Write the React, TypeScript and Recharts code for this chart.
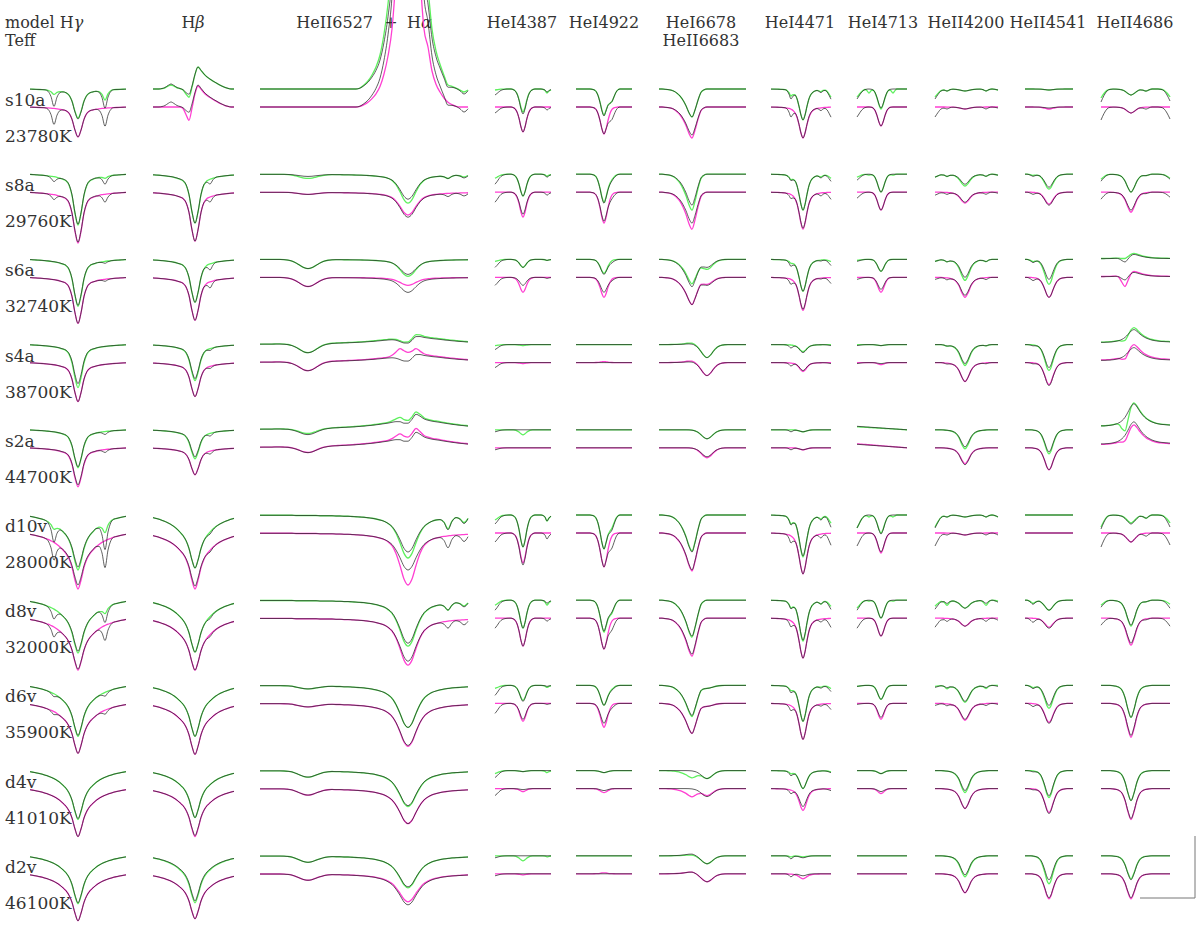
import React from "react";
import { LineChart, Line, XAxis, YAxis } from "recharts";

// page + vertical scale (normalised flux, 1 unit = 100 px)
const W = 1200;
const H = 929;
const PX_PER_UNIT = 100;
const ROW_STEP = 0.852;
const UPPER_SHIFT = 0.18;
const Y_MAX = 2.07;
const Y_MIN = Y_MAX - H / PX_PER_UNIT;

const GREEN = "#5ef05e";
const MAGENTA = "#ff3fd2";
const OBS = "#222222";

const models = ["s10a", "s8a", "s6a", "s4a", "s2a", "d10v", "d8v", "d6v", "d4v", "d2v"];
const teffs = ["23780K", "29760K", "32740K", "38700K", "44700K", "28000K", "32000K", "35900K", "41010K", "46100K"];

// ---------- H gamma ----------
const hgCore = [0,0,0,0,0,0,0,0,0,0,0,0,0.01,0.08,0.32,0.75,1,0.75,0.32,0.08,0.01,0,0,0,0,0,0,0,0,0,0,0,0];
const hgWing = [0.01,0.02,0.03,0.04,0.05,0.065,0.08,0.1,0.12,0.15,0.19,0.24,0.3,0.4,0.55,0.8,1,0.8,0.55,0.4,0.3,0.24,0.19,0.15,0.12,0.1,0.08,0.065,0.05,0.04,0.03,0.02,0.01];
const hgFar = [0.06,0.08,0.1,0.13,0.16,0.2,0.24,0.29,0.35,0.42,0.5,0.6,0.7,0.8,0.9,0.97,1,0.97,0.9,0.8,0.7,0.6,0.5,0.42,0.35,0.29,0.24,0.2,0.16,0.13,0.1,0.08,0.06];
const hgBlendA = [0,0,0,0,0,0,0.08,0.4,1,0.4,0.08,0,0,0,0,0,0,0,0,0,0,0,0,0,0,0,0,0,0,0,0,0,0];
const hgBlendB = [0,0,0,0,0,0,0,0,0,0,0,0,0,0,0,0,0,0,0,0,0,0,0,0.08,0.4,1,0.4,0.08,0,0,0,0,0];
const hgUpper = [
  [0.17,0.12,0,0.04,0.1],[0.3,0.21,0,0,0.02],[0.27,0.2,0,0,0],[0.24,0.19,0,0,0],[0.2,0.18,0,0,0],
  [0.12,0.25,0.18,0.05,0.1],[0.11,0.25,0.17,0,0.06],[0.1,0.26,0.15,0,0],[0.09,0.26,0.14,0,0],[0.09,0.26,0.13,0,0],
];
const hgLower = [
  [0.18,0.12,0,0,0],[0.3,0.21,0,0,0],[0.27,0.19,0,0,0],[0.21,0.18,0,0,0],[0.21,0.18,0,0,0],
  [0.12,0.26,0.18,0,0],[0.11,0.24,0.17,0,0],[0.1,0.25,0.15,0,0],[0.08,0.26,0.14,0,0],[0.08,0.26,0.13,0,0],
];
const hgObs = [
  [0.18,0.12,0,0.16,0.18],[0.3,0.2,0,0.05,0.08],[0.27,0.19,0,0,0.02],[0.21,0.18,0,0,0],[0.2,0.17,0,0,0.03],
  [0.1,0.24,0.18,0.18,0.27],[0.1,0.24,0.17,0.1,0.15],[0.1,0.25,0.15,0.03,0.04],[0.08,0.26,0.14,0,0],[0.08,0.26,0.13,0,0],
];

// ---------- H beta ----------
const hbCore = [0,0,0,0,0,0,0,0,0,0,0.01,0.08,0.32,0.75,1,0.75,0.32,0.08,0.01,0,0,0,0,0,0,0,0,0];
const hbWing = [0.03,0.04,0.05,0.065,0.08,0.1,0.12,0.15,0.19,0.24,0.3,0.4,0.55,0.8,1,0.8,0.55,0.4,0.3,0.24,0.19,0.15,0.12,0.1,0.08,0.065,0.05,0.04];
const hbFar = [0.1,0.13,0.16,0.2,0.24,0.29,0.35,0.42,0.5,0.6,0.7,0.8,0.9,0.97,1,0.97,0.9,0.8,0.7,0.6,0.5,0.42,0.35,0.29,0.24,0.2,0.16,0.13];
const hbBlend = [0,0,0,0,0,0,0,0,0,0,0,0,0,0,0,0,0,0,0.35,1,0.35,0,0,0,0,0,0,0];
const hbEmis = [0,0,0,0,0,0,0,0,0,0,0,0,0.08,0.3,0.7,1,0.85,0.68,0.55,0.45,0.36,0.28,0.2,0.13,0.07,0.03,0,0];
const hbAbs = [0,0,0,0,0,0,0,0,0,0,0.1,0.5,1,0.5,0.1,0,0,0,0,0,0,0,0,0,0,0,0,0];
const hbBump = [0,0,0,0.1,0.3,0.7,1,0.7,0.3,0.1,0,0,0,0,0,0,0,0,0,0,0,0,0,0,0,0,0,0];
const hbUpper = [
  [0,0,0,0,-0.22,0.1,-0.04],[0.28,0.21,0,0,0,0,0],[0.24,0.19,0,0,0,0,0],[0.19,0.17,0,0,0,0,0],[0.14,0.15,0,0,0,0,0],
  [0.1,0.24,0.19,0,0,0,0],[0.1,0.24,0.18,0,0,0,0],[0.1,0.25,0.16,0,0,0,0],[0.09,0.24,0.14,0,0,0,0],[0.09,0.24,0.14,0,0,0,0],
];
const hbLower = [
  [0,0,0,0,-0.21,0.15,0],[0.29,0.2,0,0,0,0,0],[0.24,0.19,0,0,0,0,0],[0.18,0.16,0,0,0,0,0],[0.13,0.14,0,0,0,0,0],
  [0.12,0.25,0.19,0,0,0,0],[0.1,0.24,0.18,0,0,0,0],[0.1,0.25,0.16,0,0,0,0],[0.1,0.24,0.14,0,0,0,0],[0.09,0.23,0.13,0,0,0,0],
];
const hbObs = [
  [0,0,0,0,-0.22,0.07,-0.05],[0.29,0.2,0,0.05,0,0,0],[0.24,0.19,0,0.06,0,0,0],[0.18,0.16,0,0.02,0,0,0],[0.13,0.14,0,0.03,0,0,0],
  [0.1,0.24,0.19,0.02,0,0,0],[0.1,0.24,0.18,0.02,0,0,0],[0.1,0.25,0.16,0,0,0,0],[0.09,0.24,0.14,0,0,0,0],[0.09,0.23,0.13,0,0,0,0],
];

// ---------- HeII6527 + H alpha ----------
const haCore = [0,0,0,0,0,0,0,0,0,0,0,0,0,0,0,0,0,0,0,0,0,0,0,0,0,0,0,0,0,0,0,0,0.01,0.06,0.21,0.5,0.84,1,0.84,0.5,0.21,0.06,0.01,0,0,0,0,0,0,0,0,0,0];
const haWing = [0.01,0.01,0.01,0.01,0.01,0.01,0.01,0.01,0.01,0.02,0.02,0.02,0.02,0.02,0.02,0.03,0.03,0.03,0.03,0.04,0.04,0.05,0.05,0.06,0.07,0.08,0.09,0.11,0.13,0.16,0.2,0.25,0.33,0.43,0.58,0.75,0.93,1,0.93,0.75,0.58,0.43,0.33,0.25,0.2,0.16,0.13,0.11,0.09,0.08,0.07,0.06,0.05];
const haHeII = [0,0,0,0,0,0,0.02,0.07,0.18,0.38,0.65,0.9,1,0.9,0.65,0.38,0.18,0.07,0.02,0,0,0,0,0,0,0,0,0,0,0,0,0,0,0,0,0,0,0,0,0,0,0,0,0,0,0,0,0,0,0,0,0,0];
const haBlend1 = [0,0,0,0,0,0,0,0,0,0,0,0,0,0,0,0,0,0,0,0,0,0,0,0,0,0,0,0,0,0,0,0,0,0,0,0,0,0,0,0,0,0,0,0,0,0.05,0.35,1,0.35,0.05,0,0,0];
const haBlend2 = [0,0,0,0,0,0,0,0,0,0,0,0,0,0,0,0,0,0,0,0,0,0,0,0,0,0,0,0,0,0,0,0,0,0,0,0,0,0,0,0,0,0,0,0,0,0,0,0,0,0,0.35,1,0.35];
const haEmBroad = [0.06,0.07,0.07,0.07,0.08,0.08,0.08,0.09,0.09,0.1,0.11,0.11,0.12,0.13,0.14,0.15,0.16,0.17,0.19,0.2,0.22,0.24,0.26,0.28,0.31,0.34,0.37,0.41,0.45,0.5,0.55,0.61,0.67,0.74,0.8,0.86,0.92,0.96,0.99,1,0.99,0.96,0.92,0.86,0.8,0.74,0.67,0.61,0.55,0.5,0.45,0.41,0.37];
const haEmNarrow = [0,0,0,0,0,0,0,0,0,0,0,0,0,0,0,0,0,0,0,0,0,0,0,0,0,0,0,0,0,0,0,0,0,0,0,0,0.05,0.2,0.6,1,0.6,0.2,0.05,0,0,0,0,0,0,0,0,0,0];
const haEmBump = [0,0,0,0,0,0,0,0,0,0,0,0,0,0,0,0,0,0,0,0,0,0,0,0,0,0,0,0,0,0,0,0,0,0.2,0.6,1,0.6,0.2,0,0,0,0,0,0,0,0,0,0,0,0,0,0,0];
const haEmStrong = [0,0,0,0,0,0,0,0,0,0,0,0,0,0,0,0,0,0,0,0,0,0,0,0,0,0.01,0.04,0.08,0.14,0.22,0.34,0.55,0.85,1.3,2.2,3.5,6,8,6,3.5,2.2,1.3,1,0.6,0.38,0.25,0.15,0.08,0.04,0.01,0,0,0];
const haUpper = [
  [0,0,0,0.04,0.03,0,0,0,-1],[0.17,0.12,0.04,0.03,0.02,0,0,0,0],[0.1,0.07,0.09,0,0,0,0,0,0],[0.06,0,0.09,0,0,-0.08,-0.05,0,0],[0.04,0,0.05,0,0,-0.11,-0.09,-0.05,0],
  [0.18,0.25,0,0.11,0.06,0,0,0,0],[0.18,0.28,0,0.07,0.04,0,0,0,0],[0.14,0.28,0.03,0,0,0,0,0,0],[0.1,0.26,0.06,0,0,0,0,0,0],[0.08,0.24,0.06,0,0,0,0,0,0],
];
const haLower = [
  [0,0,0,0,0,0,0,0,-0.6],[0.12,0.11,0.02,0,0,0,0,0,0],[0.04,0.04,0.09,0,0,0,0,0,0],[0,0,0.09,0,0,-0.08,-0.06,-0.07,0],[0.03,0,0.06,0,0,-0.11,-0.1,-0.06,0],
  [0.26,0.26,0,0,0,0,0,0,0],[0.2,0.27,0,0,0,0,0,0,0],[0.15,0.28,0.03,0,0,0,0,0,0],[0.1,0.25,0.06,0,0,0,0,0,0],[0.06,0.22,0.06,0,0,0,0,0,0],
];
const haObs = [
  [0,0,0,0.05,0.05,0,0,0,-0.85],[0.13,0.12,0.02,0.03,0.03,0,0,0,0],[0.08,0.07,0.09,0,0,0,0,0,0],[0.06,0,0.09,0,0,-0.07,-0.04,0,0],[0.05,0,0.06,0,0,-0.1,-0.08,-0.02,0],
  [0.12,0.25,0,0.12,0.07,0,0,0,0],[0.16,0.27,0,0.07,0.05,0,0,0,0],[0.14,0.28,0.03,0,0,0,0,0,0],[0.1,0.25,0.06,0,0,0,0,0,0],[0.07,0.24,0.06,0,0,0,0,0,0],
];

// ---------- HeI4387 ----------
const he4387Core = [0,0,0,0,0,0,0,0,0,0.02,0.07,0.2,0.45,0.8,1,0.8,0.45,0.2,0.07,0.02,0,0,0,0,0,0,0,0,0];
const he4387Edge = [1,0.75,0.45,0.22,0.1,0.04,0.01,0,0,0,0,0,0,0,0,0,0,0,0,0,0,0,0,0,0,0,0,0,0];
const he4387Blend = [0,0,0,0,0,0,0,0,0,0,0,0,0,0,0,0,0,0,0,0,0,0,0,0,0.08,0.35,1,0.5,0.2];
const he4387Upper = [[0.23,0.01,0.04],[0.22,0.04,0.02],[0.08,0.02,0.01],[0.01,0.01,0],[0.05,0,0],[0.32,0.05,0.06],[0.28,0.05,0.05],[0.15,0.03,0.02],[0.01,0.03,0.02],[0.05,0,0.01]];
const he4387Lower = [[0.25,0,0],[0.25,0,0],[0.15,0,0],[0.01,0,0],[0,0,0],[0.3,0,0],[0.28,0,0],[0.18,0,0],[0.03,0,0],[0.01,0,0]];
const he4387Obs = [[0.25,0.06,0.03],[0.22,0.1,0.03],[0.08,0.08,0.01],[0,0.05,0],[0,0.02,0],[0.32,0.09,0.06],[0.28,0.1,0.03],[0.16,0.1,0.01],[0.01,0.07,0],[0,0.02,0]];

// ---------- HeI4922 ----------
const he4922Core = [0,0,0,0,0,0,0,0,0.01,0.03,0.09,0.24,0.5,0.82,1,0.82,0.5,0.24,0.09,0.03,0.01,0,0,0,0,0,0,0,0];
const he4922Shoulder = [0,0,0,0,0,0,0,0,0,0,0,0,0,0,0,0,0.3,0.8,1,0.7,0.3,0.08,0,0,0,0,0,0,0];
const he4922Upper = [[0.26,0.1],[0.28,0.03],[0.14,0],[0,0],[0,0],[0.34,0.1],[0.32,0.1],[0.2,0.02],[0.02,0],[0,0]];
const he4922Lower = [[0.27,0],[0.31,0],[0.2,0],[-0.01,0],[0,0],[0.34,0],[0.31,0],[0.24,0],[0.04,0],[-0.01,0]];
const he4922Obs = [[0.27,0.1],[0.29,0.04],[0.15,0.02],[0,0],[0,0],[0.34,0.12],[0.31,0.09],[0.2,0.03],[0.02,0],[0,0]];

// ---------- HeI6678 + HeII6683 ----------
const he6678 = [0,0,0.01,0.02,0.04,0.08,0.15,0.25,0.4,0.6,0.85,1,0.75,0.4,0.12,0.03,0,0,0,0,0,0,0,0,0,0,0,0,0,0];
const heII6683 = [0,0,0,0,0,0,0,0,0,0,0.01,0.04,0.12,0.28,0.55,0.85,1,0.85,0.55,0.28,0.12,0.04,0.01,0,0,0,0,0,0,0];
const he6678Upper = [[0.28,0],[0.36,0],[0.24,0.1],[-0.02,0.13],[0,0.09],[0.36,0],[0.37,0],[0.31,0.03],[0.07,0.08],[-0.01,0.08]];
const he6678Lower = [[0.31,0],[0.37,0],[0.27,0.07],[-0.02,0.13],[0,0.1],[0.38,0],[0.38,0],[0.3,0.03],[0.08,0.07],[-0.02,0.08]];
const he6678Obs = [[0.28,0],[0.31,0],[0.27,0.08],[-0.01,0.13],[0,0.09],[0.37,0],[0.36,0],[0.3,0.03],[0,0.08],[-0.02,0.08]];

// ---------- HeI4471 ----------
const he4471Core = [0,0,0,0,0,0,0,0,0,0,0.015,0.04,0.1,0.24,0.5,0.82,1,0.82,0.5,0.24,0.1,0.04,0.015,0,0,0,0,0,0,0,0];
const he4471Wing = [0.01,0.02,0.03,0.04,0.05,0.07,0.09,0.13,0.18,0.24,0.32,0.42,0.55,0.7,0.85,0.95,1,0.95,0.85,0.7,0.55,0.42,0.32,0.24,0.18,0.13,0.09,0.07,0.05,0.04,0.03];
const he4471BlendL = [0,0,0,0,0,0,0,0,0.1,0.5,1,0.5,0.1,0,0,0,0,0,0,0,0,0,0,0,0,0,0,0,0,0,0];
const he4471BlendR = [0,0,0,0,0,0,0,0,0,0,0,0,0,0,0,0,0,0,0,0,0,0,0,0.1,0.5,1,0.5,0.1,0,0,0];
const he4471Edge = [0,0,0,0,0,0,0,0,0,0,0,0,0,0,0,0,0,0,0,0,0,0,0,0,0,0,0,0.08,0.25,0.6,1];
const he4471Upper = [[0.26,0.05,0.05,0.02,0.08],[0.3,0.06,0.03,0.02,0.04],[0.27,0.05,0.02,0,0.02],[0.06,0.01,0,0,0],[0.02,0,0,0,0],[0.34,0.08,0.06,0.03,0.08],[0.34,0.07,0.05,0.03,0.06],[0.3,0.06,0.03,0.01,0.03],[0.15,0.03,0.02,0,0.01],[0.01,0,0.01,0,0]];
const he4471Lower = [[0.25,0.06,0,0,0],[0.31,0.06,0,0,0],[0.28,0.05,0,0,0],[0.08,0.01,0,0,0],[0.02,0,0,0,0],[0.33,0.08,0,0,0],[0.33,0.07,0,0,0],[0.3,0.06,0,0,0],[0.18,0.04,0,0,0],[0.04,0.01,0,0,0]];
const he4471Obs = [[0.26,0.05,0.08,0.03,0.1],[0.3,0.06,0.04,0.03,0.07],[0.27,0.05,0.05,0.01,0.06],[0.07,0.01,0.03,0,0.01],[0.02,0,0.02,0,0],[0.33,0.08,0.07,0.04,0.12],[0.33,0.07,0.06,0.03,0.09],[0.3,0.06,0.05,0.02,0.06],[0.15,0.03,0.04,0,0.02],[0.02,0,0.03,0,0]];

// ---------- HeI4713 ----------
const he4713Core = [0,0,0,0,0,0,0,0.01,0.05,0.18,0.45,0.8,1,0.8,0.45,0.18,0.05,0.01,0,0,0,0,0,0,0,0];
const he4713Edge = [1,0.7,0.4,0.18,0.06,0.01,0,0,0,0,0,0,0,0,0,0,0,0,0,0,0,0,0,0,0,0];
const he4713BlendA = [0,0,0,0,0,0.4,1,0.4,0,0,0,0,0,0,0,0,0,0,0,0,0,0,0,0,0,0];
const he4713BlendB = [0,0,0,0,0,0,0,0,0,0,0,0,0,0,0,0,0,0.4,1,0.4,0,0,0,0,0,0];
const he4713Tilt = [1,0.96,0.92,0.88,0.84,0.8,0.76,0.72,0.68,0.64,0.6,0.56,0.52,0.48,0.44,0.4,0.36,0.32,0.28,0.24,0.2,0.16,0.12,0.08,0.04,0];
const he4713Upper = [[0.2,0.08,0.04,0.04,0],[0.18,0.03,0.01,0.01,0],[0.12,0.01,0,0,0],[0.01,0,0,0,0],[0,0,0,0,-0.03],[0.18,0.13,0.02,0.02,0],[0.18,0.08,0.01,0.01,0],[0.14,0.01,0,0,0],[0.03,0,0,0,0],[0,0,0,0,0]];
const he4713Lower = [[0.19,0,0,0,0],[0.18,0,0,0,0],[0.15,0,0,0,0],[0.02,0,0,0,0],[0,0,0,0,-0.04],[0.2,0,0,0,0],[0.18,0,0,0,0],[0.16,0,0,0,0],[0.05,0,0,0,0],[0,0,0,0,0]];
const he4713Obs = [[0.19,0.1,0,0,0],[0.18,0.06,0,0,0],[0.12,0.02,0,0,0],[0.01,0.01,0,0,0],[0,0,0,0,-0.035],[0.19,0.13,0,0,0],[0.18,0.1,0,0,0],[0.14,0.01,0,0,0],[0.03,0,0,0,0],[0,0,0,0,0]];

// ---------- HeII4200 ----------
const heII4200Core = [0,0,0,0.01,0.025,0.05,0.1,0.2,0.42,0.78,1,0.78,0.42,0.2,0.1,0.05,0.025,0.01,0,0,0,0];
const heII4200EdgeL = [1,0.55,0.2,0.05,0,0,0,0,0,0,0,0,0,0,0,0,0,0,0,0,0,0];
const heII4200Wiggle = [0,0,0,0.3,1,0.3,0,0,0,0,0,0,0,0,0,0,0.3,1,0.3,0,0,0];
const heII4200EdgeR = [0,0,0,0,0,0,0,0,0,0,0,0,0,0,0,0,0,0,0,0,0.3,1];
const heII4200Upper = [[0.02,0.08,0.02,0.01],[0.12,0.03,0.02,0.01],[0.21,0.02,0.02,0],[0.21,0,0.01,0],[0.19,0,0,0],[0.02,0.12,0.02,0.02],[0.08,0.06,0.05,0.01],[0.17,0.01,0.03,0],[0.22,0,0,0],[0.21,0,0,0]];
const heII4200Lower = [[0.02,0,0,0],[0.11,0,0,0],[0.2,0,0,0],[0.19,0,0,0],[0.16,0,0,0],[0.02,0,0,0],[0.08,0,0,0],[0.17,0,0,0],[0.2,0,0,0],[0.19,0,0,0]];
const heII4200Obs = [[0.02,0.1,0.02,0.01],[0.1,0.03,0.02,0.01],[0.18,0.02,0.02,0],[0.19,0,0.01,0],[0.17,0,0,0],[0.02,0.13,0.02,0.02],[0.08,0.09,0.03,0.02],[0.16,0.02,0.02,0.01],[0.2,0,0,0],[0.19,0,0,0]];

// ---------- HeII4541 ----------
const heII4541Core = [0,0,0,0,0.01,0.025,0.05,0.1,0.2,0.38,0.62,0.88,1,0.88,0.62,0.38,0.2,0.1,0.05,0.025,0.01,0,0,0,0];
const heII4541Blend = [0,0,0.2,0.6,1,0.6,0.2,0,0,0,0,0,0,0,0,0,0,0,0,0,0,0,0,0,0];
const heII4541Upper = [[0.01,0],[0.15,0.01],[0.25,0.02],[0.26,0],[0.24,0],[0,0],[0.1,0.03],[0.23,0.02],[0.27,0],[0.28,0]];
const heII4541Lower = [[0.02,0],[0.12,0],[0.2,0],[0.22,0],[0.22,0],[0,0],[0.09,0],[0.19,0],[0.24,0],[0.25,0]];
const heII4541Obs = [[0.01,0],[0.13,0.02],[0.2,0.03],[0.23,0.01],[0.22,0],[0,0],[0.1,0.04],[0.2,0.03],[0.25,0.01],[0.24,0]];

// ---------- HeII4686 ----------
const heII4686Core = [0,0,0,0,0.01,0.025,0.06,0.15,0.38,0.75,1,0.75,0.38,0.15,0.06,0.025,0.01,0,0,0,0,0,0,0];
const heII4686Emis = [0.15,0.15,0.16,0.17,0.19,0.22,0.27,0.35,0.48,0.68,0.9,1,0.88,0.7,0.55,0.44,0.36,0.3,0.26,0.23,0.21,0.2,0.19,0.18];
const heII4686EdgeL = [1,0.5,0.15,0.03,0,0,0,0,0,0,0,0,0,0,0,0,0,0,0,0,0,0,0,0];
const heII4686EdgeR = [0,0,0,0,0,0,0,0,0,0,0,0,0,0,0,0,0,0,0,0,0.03,0.15,0.5,1];
const heII4686Blend = [0,0,0,0,0,0,0,0,0,0,0,0,0,0,0.4,1,0.4,0,0,0,0,0,0,0];
const heII4686Pcyg = [0,0,0,0,0,0,0.15,0.6,1,0.6,0.15,0,0,0,0,0,0,0,0,0,0,0,0,0];
const heII4686Upper = [[0.06,0,0.09,0.08,0.02,0],[0.18,0,0.05,0.04,0.01,0],[0,-0.06,0,0,0,0.02],[0,-0.17,0,0,0,0.04],[0,-0.27,0,0,0,0.14],[0.08,0,0.12,0.08,0.03,0],[0.26,0,0.05,0.04,0.01,0],[0.32,0,0,0,0,0],[0.3,0,0,0,0,0],[0.23,0,0,0,0,0]];
const heII4686Lower = [[0.06,0,0,0,0,0],[0.2,0,0,0,0,0],[0,-0.06,0,0,0,0.12],[0,-0.18,0,0,0,0.05],[0,-0.23,0,0,0,0.04],[0.09,0,0,0,0,0],[0.27,0,0,0,0,0],[0.34,0,0,0,0,0],[0.31,0,0,0,0,0],[0.25,0,0,0,0,0]];
const heII4686Obs = [[0.06,0,0.13,0.12,0.02,0],[0.18,0,0.07,0.05,0.01,0],[0,-0.05,0,0,0,0.05],[0,-0.15,0,0,0,0],[0,-0.26,0,0,0,0],[0.09,0,0.14,0.12,0.03,0],[0.25,0,0.07,0.08,0.01,0],[0.32,0,0,0,0,0],[0.3,0,0,0,0,0],[0.24,0,0,0,0,0]];

// panel placement on the page (left edge in px, px per sample)
const panels = [
  { id: "hg", left: 30, step: 3, shapes: [hgCore, hgWing, hgFar, hgBlendA, hgBlendB], upper: hgUpper, lower: hgLower, obs: hgObs },
  { id: "hb", left: 153, step: 3, shapes: [hbCore, hbWing, hbFar, hbBlend, hbEmis, hbAbs, hbBump], upper: hbUpper, lower: hbLower, obs: hbObs },
  { id: "ha", left: 260, step: 4, shapes: [haCore, haWing, haHeII, haBlend1, haBlend2, haEmBroad, haEmNarrow, haEmBump, haEmStrong], upper: haUpper, lower: haLower, obs: haObs },
  { id: "h4387", left: 495, step: 2, shapes: [he4387Core, he4387Edge, he4387Blend], upper: he4387Upper, lower: he4387Lower, obs: he4387Obs },
  { id: "h4922", left: 576, step: 2, shapes: [he4922Core, he4922Shoulder], upper: he4922Upper, lower: he4922Lower, obs: he4922Obs },
  { id: "h6678", left: 659, step: 3, shapes: [he6678, heII6683], upper: he6678Upper, lower: he6678Lower, obs: he6678Obs },
  { id: "h4471", left: 771, step: 2, shapes: [he4471Core, he4471Wing, he4471BlendL, he4471BlendR, he4471Edge], upper: he4471Upper, lower: he4471Lower, obs: he4471Obs },
  { id: "h4713", left: 857, step: 2, shapes: [he4713Core, he4713Edge, he4713BlendA, he4713BlendB, he4713Tilt], upper: he4713Upper, lower: he4713Lower, obs: he4713Obs },
  { id: "h4200", left: 935, step: 3, shapes: [heII4200Core, heII4200EdgeL, heII4200Wiggle, heII4200EdgeR], upper: heII4200Upper, lower: heII4200Lower, obs: heII4200Obs },
  { id: "h4541", left: 1025, step: 2, shapes: [heII4541Core, heII4541Blend], upper: heII4541Upper, lower: heII4541Lower, obs: heII4541Obs },
  { id: "h4686", left: 1101, step: 3, shapes: [heII4686Core, heII4686Emis, heII4686EdgeL, heII4686EdgeR, heII4686Blend, heII4686Pcyg], upper: heII4686Upper, lower: heII4686Lower, obs: heII4686Obs },
];

function buildRows(p: any) {
  const n = p.shapes[0].length;
  const profile = (coef: number[], i: number) =>
    1 - coef.reduce((s, c, j) => s + c * (p.shapes[j][i] ?? 0), 0);
  const rows: any[] = [];
  for (let i = 0; i < n; i++) {
    const pt: any = { i };
    models.forEach((_, r) => {
      const off = -ROW_STEP * r;
      pt[`g${r}`] = profile(p.upper[r], i) + UPPER_SHIFT + off;
      pt[`ku${r}`] = profile(p.obs[r], i) + UPPER_SHIFT + off;
      pt[`m${r}`] = profile(p.lower[r], i) + off;
      pt[`kl${r}`] = profile(p.obs[r], i) + off;
    });
    rows.push(pt);
  }
  return rows;
}

function Panel({ p }: { p: any }) {
  const data = buildRows(p);
  const n = p.shapes[0].length;
  const pad = 2;
  const width = (n - 1) * p.step + pad * 2;
  const lines: React.ReactNode[] = [];
  models.forEach((_, r) => {
    lines.push(
      <Line key={`g${r}`} dataKey={`g${r}`} type="monotone" stroke={GREEN} strokeWidth={1.3} dot={false} activeDot={false} isAnimationActive={false} />,
      <Line key={`m${r}`} dataKey={`m${r}`} type="monotone" stroke={MAGENTA} strokeWidth={1.3} dot={false} activeDot={false} isAnimationActive={false} />,
      <Line key={`ku${r}`} dataKey={`ku${r}`} type="monotone" stroke={OBS} strokeOpacity={0.72} strokeWidth={1} dot={false} activeDot={false} isAnimationActive={false} />,
      <Line key={`kl${r}`} dataKey={`kl${r}`} type="monotone" stroke={OBS} strokeOpacity={0.72} strokeWidth={1} dot={false} activeDot={false} isAnimationActive={false} />
    );
  });
  return (
    <div style={{ position: "absolute", left: p.left - pad, top: 0, width, height: H }}>
      <LineChart width={width} height={H} data={data} margin={{ top: 0, right: pad, bottom: 0, left: pad }}>
        <XAxis dataKey="i" type="number" domain={[0, n - 1]} hide />
        <YAxis type="number" domain={[Y_MIN, Y_MAX]} allowDataOverflow hide />
        {lines}
      </LineChart>
    </div>
  );
}

const headStyle = { fontFamily: "'DejaVu Serif', serif", fontSize: 16, fill: "#333" };
const labelStyle = { fontFamily: "'DejaVu Serif', serif", fontSize: 17, fill: "#333" };

export default function App() {
  return (
    <div style={{ position: "absolute", left: 0, top: 0, width: W, height: H, background: "#fff", overflow: "hidden" }}>
      <svg width={W} height={H} style={{ position: "absolute", left: 0, top: 0 }}>
        <g style={headStyle as any}>
          <text x={5} y={28}>model H<tspan fontStyle="italic">γ</tspan></text>
          <text x={5} y={46}>Teff</text>
          <text x={193} y={28} textAnchor="middle">H<tspan fontStyle="italic">β</tspan></text>
          <text x={373} y={28} textAnchor="end">HeII6527</text>
          <text x={391} y={28} textAnchor="middle">+</text>
          <text x={407} y={28}>H<tspan fontStyle="italic">α</tspan></text>
          <text x={522} y={28} textAnchor="middle">HeI4387</text>
          <text x={604} y={28} textAnchor="middle">HeI4922</text>
          <text x={701} y={28} textAnchor="middle">HeI6678</text>
          <text x={701} y={46} textAnchor="middle">HeII6683</text>
          <text x={800} y={28} textAnchor="middle">HeI4471</text>
          <text x={883} y={28} textAnchor="middle">HeI4713</text>
          <text x={966} y={28} textAnchor="middle">HeII4200</text>
          <text x={1048} y={28} textAnchor="middle">HeII4541</text>
          <text x={1135} y={28} textAnchor="middle">HeII4686</text>
        </g>
        <g style={labelStyle as any}>
          {models.map((m, r) => (
            <text key={m} x={5} y={106 + 85.2 * r}>{m}</text>
          ))}
          {teffs.map((t, r) => (
            <text key={t} x={5} y={142 + 85.2 * r}>{t}</text>
          ))}
        </g>
        {/* scale bar */}
        <line x1={1195} y1={836} x2={1195} y2={898} stroke="#777" strokeWidth={1} />
        <line x1={1140} y1={898} x2={1195} y2={898} stroke="#777" strokeWidth={1} />
      </svg>
      {panels.map((p) => (
        <Panel key={p.id} p={p} />
      ))}
    </div>
  );
}
